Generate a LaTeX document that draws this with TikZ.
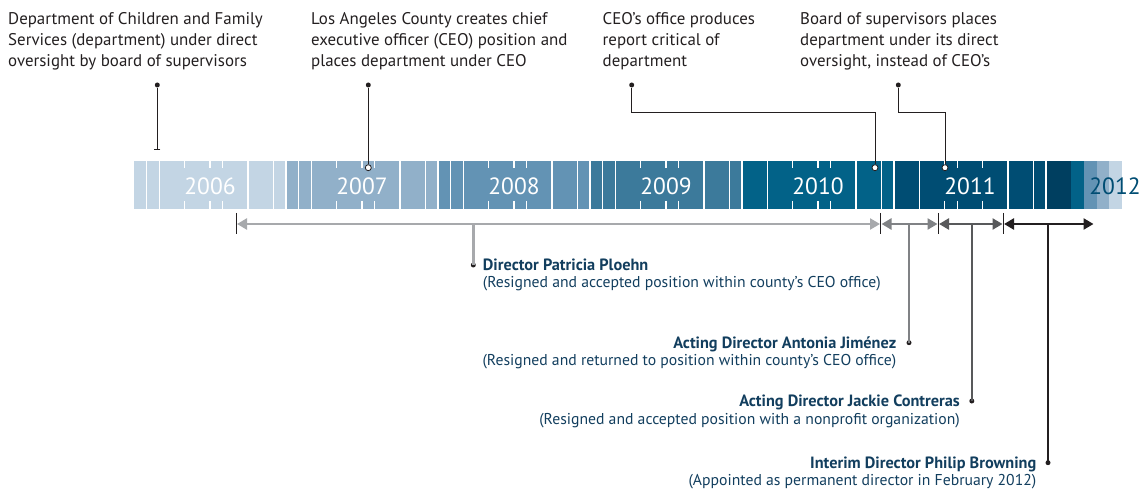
\documentclass[tikz,border=0pt]{standalone}
\usepackage{fontspec}
\setmainfont{PT Sans}
\usetikzlibrary{arrows.meta}
\definecolor{yA}{RGB}{195,213,228}
\definecolor{yB}{RGB}{145,176,201}
\definecolor{yC}{RGB}{99,147,180}
\definecolor{yD}{RGB}{60,122,155}
\definecolor{yE}{RGB}{2,98,136}
\definecolor{yF}{RGB}{0,77,115}
\definecolor{yG}{RGB}{0,63,96}
\definecolor{ink}{RGB}{35,31,32}
\definecolor{navy}{RGB}{18,62,94}
\definecolor{gA}{RGB}{167,169,172}
\definecolor{gB}{RGB}{128,130,133}
\definecolor{gC}{RGB}{88,89,91}
\definecolor{gD}{RGB}{35,31,32}
\newcommand{\boldlab}[1]{{\fontsize{16.3}{17.3}\selectfont\bfseries #1}}
\tikzset{
  yearlab/.style={anchor=base, text=white, font=\fontsize{23.5}{24}\selectfont, inner sep=0},
  toptext/.style={anchor=base west, align=left, text=ink, inner sep=0, font=\fontsize{16.9}{20.8}\selectfont},
  dirtext/.style={align=left, text=navy, inner sep=0, font=\fontsize{15.7}{17.3}\selectfont},
  dot/.style={circle, fill=ink, inner sep=0, minimum size=5pt},
  evmark/.style={circle, draw=ink, fill=white, line width=0.8pt, inner sep=0, minimum size=6pt},
  evline/.style={draw=ink, line width=0.9pt},
  sep/.style={draw=white, line width=1.2pt},
  tickline/.style={draw=ink, line width=0.9pt},
  spanarrow/.style={line width=2.6pt, {Triangle[length=10pt,width=11pt]}-{Triangle[length=10pt,width=11pt]}},
  dropline/.style={line width=2.6pt},
}
\begin{document}
\begin{tikzpicture}[x=1pt,y=-1pt]
\useasboundingbox (0,0) rectangle (1141,489);
% year blocks
\foreach \k/\col in {0/yA,1/yB,2/yC,3/yD,4/yE,5/yF}
  \fill[\col] ({134+152*\k},161) rectangle ({134+152*(\k+1)},209);
\fill[yG] (1046,161) rectangle (1071.3,209);
\fill[yE] (1071.3,161) rectangle (1084,209);
\fill[yC] (1084,161) rectangle (1096.7,209);
\fill[yB] (1096.7,161) rectangle (1109.3,209);
\fill[yA] (1109.3,161) rectangle (1122,209);
% full separators
\foreach \k in {0,1,2,3}
  \foreach \m in {1,2,9,11}
    \draw[sep] ({134+152*\k+12.667*\m},161) -- ({134+152*\k+12.667*\m},209);
\foreach \k in {4,5}
  \foreach \m in {2,9,11}
    \draw[sep] ({134+152*\k+12.667*\m},161) -- ({134+152*\k+12.667*\m},209);
\foreach \k in {1,2,3,4,5,6}
  \draw[sep] ({134+152*\k},161) -- ({134+152*\k},209);
% tick separators
\foreach \k in {0,1,2,3,4}
  \foreach \m in {4,6,7}{
    \draw[sep] ({134+152*\k+12.667*\m},161) -- ({134+152*\k+12.667*\m},168);
    \draw[sep] ({134+152*\k+12.667*\m},201) -- ({134+152*\k+12.667*\m},209);}
\foreach \m in {4,5,7}{
    \draw[sep] ({894+12.667*\m},161) -- ({894+12.667*\m},168);
    \draw[sep] ({894+12.667*\m},201) -- ({894+12.667*\m},209);}
% year labels
\node[yearlab] (l06) at (210,194.3) {2006};
\node[yearlab] (l07) at (362,194.3) {2007};
\node[yearlab] (l08) at (514,194.3) {2008};
\node[yearlab] (l09) at (666,194.3) {2009};
\node[yearlab] (l10) at (818,194.3) {2010};
\node[yearlab] (l11) at (970,194.3) {2011};
\node[yearlab, text=yF] (l12) at (1115,194.3) {2012};
% top event texts (anchor = baseline of last line)
\node[toptext] (t1) at (8,66.6) {Department of Children and Family\\Services (department) under direct\\oversight by board of supervisors};
\node[toptext] (t2) at (311,66.6) {Los Angeles County creates chief\\executive officer (CEO) position and\\places department under CEO};
\node[toptext] (t3) at (602.5,66.6) {CEO’s office produces\\report critical of\\department};
\node[toptext] (t4) at (800,66.6) {Board of supervisors places\\department under its direct\\oversight, instead of CEO’s};
% event dots and markers
\node[dot] (d1) at (157.3,85) {};
\node[dot] (d2) at (368.3,85) {};
\node[dot] (d3) at (631.7,85) {};
\node[dot] (d4) at (898.3,85) {};
\coordinate (e1) at (157.3,150);
\node[evmark] (m2) at (368.3,167.7) {};
\node[evmark] (m3) at (875,167.7) {};
\node[evmark] (m4) at (945,167.7) {};
\coordinate (k3) at (631.7,112.3);
\coordinate (k4) at (898.3,112.3);
\draw[evline, -{Bar[width=6pt]}] (d1) -- (e1);
\draw[evline] (d2) -- (m2);
\draw[evline] (d3) -- (k3) -| (m3);
\draw[evline] (d4) -- (k4) -| (m4);
% span ticks
\foreach \x in {236,880.7,938.3,1003.3}
  \draw[tickline] (\x,213) -- (\x,234);
% span arrows
\coordinate (a1l) at (237,224); \coordinate (a1r) at (880,224);
\coordinate (a2l) at (881.5,224); \coordinate (a2r) at (937.5,224);
\coordinate (a3l) at (939,224); \coordinate (a3r) at (1002.5,224);
\coordinate (a4l) at (1004,224); \coordinate (a4r) at (1093.5,224);
\draw[spanarrow, gA] (a1l) -- (a1r);
\draw[spanarrow, gB] (a2l) -- (a2r);
\draw[spanarrow, gC] (a3l) -- (a3r);
\draw[spanarrow, gD] (a4l) -- (a4r);
% drop lines
\coordinate (b1) at (473.3,224);
\coordinate (b2) at (909,224);
\coordinate (b3) at (971.8,224);
\coordinate (b4) at (1048,224);
\node[dot] (q1) at (473.3,265) {};
\node[dot] (q2) at (909,342.7) {};
\node[dot] (q3) at (971.8,401) {};
\node[dot] (q4) at (1048,462.7) {};
\draw[dropline, gA] (b1) -- (q1.center);
\draw[dropline, gB] (b2) -- (q2.center);
\draw[dropline, gC] (b3) -- (q3.center);
\draw[dropline, gD] (b4) -- (q4.center);
% director labels (anchor = baseline of last line)
\node[dirtext, anchor=base west] (p1) at (482.7,287.3) {\boldlab{Director Patricia Ploehn}\\(Resigned and accepted position within county’s CEO office)};
\node[dirtext, anchor=base east, align=right] (p2) at (896.5,365.3) {\boldlab{Acting Director Antonia Jiménez}\\(Resigned and returned to position within county’s CEO office)};
\node[dirtext, anchor=base east, align=right] (p3) at (960,424) {\boldlab{Acting Director Jackie Contreras}\\(Resigned and accepted position with a nonprofit organization)};
\node[dirtext, anchor=base east, align=right] (p4) at (1036.5,485.6) {\boldlab{Interim Director Philip Browning}\\(Appointed as permanent director in February 2012)};
\end{tikzpicture}
\end{document}
